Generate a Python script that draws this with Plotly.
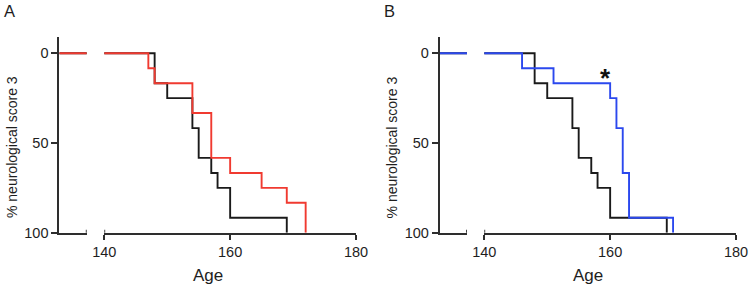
import plotly.graph_objects as go

# ---- data ----
control_age = [0, 148, 150, 154, 155, 157, 158, 160, 169]
control_pct = [0, 16.7, 25, 41.7, 58.3, 66.7, 75, 91.7, 100]

red_age = [0, 147, 148, 154, 157, 160, 165, 169, 172]
red_pct = [0, 8.3, 16.7, 33.3, 58.3, 66.7, 75, 83.3, 100]

blue_age = [0, 146, 151, 160, 161, 162, 163, 170]
blue_pct = [0, 8.3, 16.7, 25, 41.7, 66.7, 91.7, 100]

x_ticks = [140, 160, 180]
y_ticks = [0, 50, 100]
panel_labels = ["A", "B"]

W, H = 749, 287
FONT = "Arial, Liberation Sans, sans-serif"
AX = "#2e2e2e"
TXT = "#1e1e1e"
BLACK = "#1a1a1a"
RED = "#f03a30"
BLUE = "#2b48ee"


def px(x):
    return x / W


def py(y):
    return 1 - y / H


fig = go.Figure()

panels = [
    dict(xl="x", xm="x2", y="y", color=RED, age=red_age, pct=red_pct),
    dict(xl="x3", xm="x4", y="y2", color=BLUE, age=blue_age, pct=blue_pct),
]

for p in panels:
    for xa in (p["xl"], p["xm"]):
        fig.add_trace(go.Scatter(x=control_age, y=control_pct, mode="lines",
                                 line=dict(shape="hv", color=BLACK, width=1.9),
                                 xaxis=xa, yaxis=p["y"], showlegend=False,
                                 hoverinfo="skip"))
        fig.add_trace(go.Scatter(x=p["age"], y=p["pct"], mode="lines",
                                 line=dict(shape="hv", color=p["color"], width=1.9),
                                 xaxis=xa, yaxis=p["y"], showlegend=False,
                                 hoverinfo="skip"))

# geometry (pixels)
ydom = [py(232.7), py(36.7)]
left_seg = {"A": (59.3, 86.7), "B": (439.7, 467.0)}
main_seg = {"A": (104.3, 356.0), "B": (484.3, 736.0)}

yrange = [100, -9.25]
LEFT_MAX = 10

common_x = dict(showgrid=False, zeroline=False, showline=True, linecolor=AX,
                linewidth=1.8, fixedrange=True, automargin=False)

layout = dict(
    width=W, height=H, margin=dict(l=0, r=0, t=0, b=0, pad=0),
    plot_bgcolor="white", paper_bgcolor="white",
    font=dict(family=FONT, color=TXT, size=14),
)

for i, (name, p) in enumerate(zip(panel_labels, panels)):
    xl_key = "xaxis" if p["xl"] == "x" else "xaxis" + p["xl"][1:]
    xm_key = "xaxis" + p["xm"][1:]
    y_key = "yaxis" if p["y"] == "y" else "yaxis" + p["y"][1:]
    ls, lsend = left_seg[name]
    ms, msend = main_seg[name]
    layout[xl_key] = dict(common_x, domain=[px(ls), px(lsend)], range=[0, LEFT_MAX],
                          anchor=p["y"], showticklabels=False, ticks="")
    layout[xm_key] = dict(common_x, domain=[px(ms), px(msend)], range=[140, 180],
                          anchor=p["y"], tickvals=x_ticks, ticks="outside",
                          ticklen=5, tickwidth=1.8, tickcolor=AX,
                          tickfont=dict(size=14.5, family=FONT, color=TXT))
    layout[y_key] = dict(domain=ydom, range=yrange, anchor=p["xl"],
                         showgrid=False, zeroline=False, showline=True,
                         linecolor=AX, linewidth=1.8, tickvals=y_ticks,
                         ticks="outside", ticklen=6, tickwidth=1.8, tickcolor=AX,
                         tickfont=dict(size=14.5, family=FONT, color=TXT),
                         fixedrange=True, automargin=False)

fig.update_layout(**layout)

shapes = []
annotations = []
for name, p in zip(panel_labels, panels):
    # break caps
    for xr, xv in ((p["xl"], LEFT_MAX), (p["xm"], 140)):
        shapes.append(dict(type="line", xref=xr, yref=p["y"], x0=xv, x1=xv,
                           ysizemode="pixel", yanchor=100, y0=-4, y1=3,
                           line=dict(color=AX, width=1.8)))
    ls, _ = left_seg[name]
    _, msend = main_seg[name]
    # y title
    annotations.append(dict(text="% neurological score 3", xref="paper", yref="paper",
                            x=px(ls - 47.8), y=py(147.5), showarrow=False,
                            textangle=-90, font=dict(size=14, family=FONT, color=TXT),
                            xanchor="center", yanchor="middle"))
    # x title
    annotations.append(dict(text="Age", xref="paper", yref="paper",
                            x=px((ls + msend) / 2), y=py(275), showarrow=False,
                            font=dict(size=17, family=FONT, color=TXT),
                            xanchor="center", yanchor="middle"))
    # panel letter
    annotations.append(dict(text=name, xref="paper", yref="paper",
                            x=px(ls - 57.5), y=py(11), showarrow=False,
                            font=dict(size=16.5, family=FONT, color=TXT),
                            xanchor="left", yanchor="middle"))

annotations.append(dict(text="<b>*</b>", xref="x4", yref="y2", x=159.3, y=13.5,
                        showarrow=False, font=dict(size=26, family=FONT, color="#111111"),
                        xanchor="center", yanchor="middle"))

fig.update_layout(shapes=shapes, annotations=annotations)
fig.write_html("out.html", config={"displayModeBar": False},
               post_script="document.body.style.margin='0';document.body.style.overflow='hidden';")
